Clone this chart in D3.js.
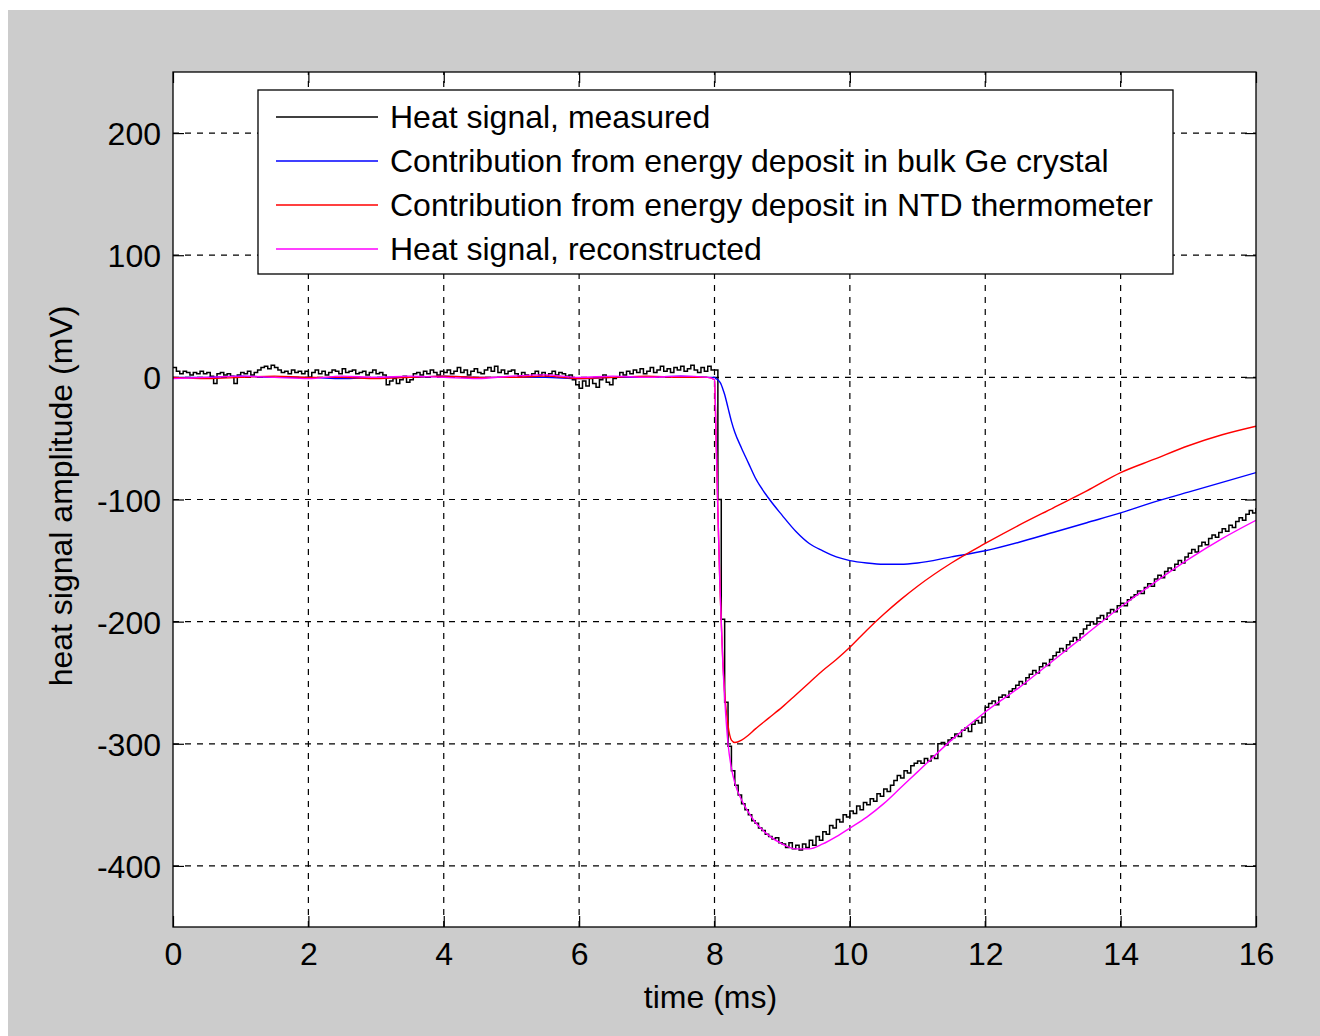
<html>
<head>
<meta charset="utf-8">
<title>heat signal</title>
<style>
body { margin: 0; padding: 0; background: #ffffff; }
svg { display: block; }
text { font-family: "Liberation Sans", Arial, sans-serif; font-size: 32px; fill: #000; }
.grid line { stroke: #000; stroke-width: 1.2; stroke-dasharray: 6,6; }
.axis line { stroke: #000; stroke-width: 1.2; }
</style>
</head>
<body>
<svg id="chart" width="1320" height="1036"></svg>
<script src="https://cdnjs.cloudflare.com/ajax/libs/d3/7.8.5/d3.min.js"></script>
<script>
// tick values
var xTicks = [0, 2, 4, 6, 8, 10, 12, 14, 16];
var yTicks = [-400, -300, -200, -100, 0, 100, 200];

// measured heat signal, one sample every 0.05 ms from 0 to 16 ms (mV)
var measuredStep = 0.05;
var measured = [
  8, 5, 3, 5, 4, 2, 4, 3, 5, 3, 4, 1, -5, 3, 4, 2, 3, 1, -5, 2,
  4, 3, 5, 2, 4, 6, 8, 9, 7, 10, 8, 6, 4, 5, 3, 6, 4, 5, 3, 5,
  0, 4, 6, 3, 5, 2, 4, 6, 5, 3, 7, 4, 5, 6, 3, 4, 5, 2, 4, 6,
  3, 4, 2, -6, -3, -1, -5, -2, 1, -4, -2, 3, 4, 2, 5, 3, 6, 4, 2, 5,
  4, 6, 3, 5, 8, 4, 6, 2, 5, 7, 4, 3, 6, 8, 5, 9, 4, 6, 3, 5,
  6, 3, 1, 4, 2, 0, 3, 5, 2, 4, 1, 3, 5, 2, 4, 3, 1, 2, -2, -6,
  -9, -3, -7, -1, -5, -8, -2, 2, -4, -6, -1, 0, 4, 2, 5, 3, 6, 4, 7, 3,
  5, 8, 4, 6, 9, 5, 7, 4, 8, 6, 9, 5, 7, 10, 6, 4, 8, 5, 9, 6,
  6, -100, -198, -266, -302, -322, -334, -342, -349, -354, -358, -363, -365, -369, -371, -374, -376, -378, -377, -381,
  -382, -385, -381, -386, -383, -387, -382, -385, -379, -383, -376, -379, -372, -374, -367, -369, -362, -364, -358, -360,
  -355, -357, -351, -354, -348, -350, -345, -347, -341, -343, -337, -339, -334, -330, -326, -328, -322, -324, -318, -316,
  -314, -316, -312, -314, -310, -312, -300, -299, -301, -297, -295, -292, -294, -289, -287, -290, -284, -281, -283, -278,
  -270, -267, -265, -268, -262, -260, -262, -257, -255, -252, -249, -251, -246, -243, -240, -242, -237, -234, -236, -231,
  -228, -225, -222, -224, -219, -216, -213, -215, -210, -206, -203, -200, -202, -197, -195, -198, -193, -190, -192, -187,
  -185, -187, -182, -180, -178, -175, -177, -172, -169, -171, -165, -162, -164, -159, -156, -158, -153, -150, -152, -147,
  -144, -141, -143, -138, -135, -137, -132, -129, -131, -127, -124, -126, -121, -123, -118, -115, -117, -112, -109, -111, -107
];

// fitted components (ms, mV)
var fitTime = [0, 0.5, 1, 1.5, 2, 2.5, 3, 3.5, 4, 4.5, 5, 5.5, 6, 6.5, 7, 7.5, 7.9,
  8.0, 8.02, 8.05, 8.08, 8.1, 8.12, 8.15, 8.2, 8.25, 8.3, 8.4, 8.5, 8.6,
  8.8, 9.0, 9.2, 9.4, 9.6, 9.8, 10, 10.25, 10.5, 10.75, 11,
  11.5, 12, 12.5, 13, 13.5, 14, 14.5, 15, 15.5, 16];
var bulkGe = [0, 0, 1, 0, 0, -1, 0, 0, 1, 0, 0, 0, -1, 0, 0, 1, 0,
  0, -1, -2, -4, -6, -9, -14, -25, -36, -45, -58, -70, -82,
  -99, -113, -126, -136, -142, -147, -150, -152, -153, -153, -152,
  -147, -142, -135, -127, -119, -111, -102, -94, -86, -78];
var ntd = [0, -1, 0, 1, 0, 0, -1, 0, 1, 0, 0, 1, -1, 0, 1, 0, 0,
  -2, -40, -110, -170, -200, -228, -258, -285, -297, -299, -297, -293, -288,
  -279, -270, -260, -250, -240, -231, -221, -207, -194, -182, -171,
  -152, -136, -121, -107, -93, -78, -67, -56, -47, -40];
var reconstructed = [-1, 0, 1, 0, -1, 1, 0, 1, 0, -1, 1, 2, 0, 1, 0, 1, 0,
  -2, -40, -110, -170, -200, -230, -262, -300, -320, -332, -346, -356, -364,
  -375, -382, -386, -386, -382, -376, -369, -360, -349, -336, -323,
  -297, -274, -254, -232, -210, -188, -168, -149, -132, -117];

var legendLabels = [
  "Heat signal, measured",
  "Contribution from energy deposit in bulk Ge crystal",
  "Contribution from energy deposit in NTD thermometer",
  "Heat signal, reconstructed"
];
var legendColours = ["#000000", "#0000ff", "#ff0000", "#ff00ff"];

var svg = d3.select("#chart");

var plotLeft = 173, plotRight = 1256, plotTop = 72, plotBottom = 927;

var x = d3.scaleLinear().domain([0, 16]).range([plotLeft, plotRight]);
var y = d3.scaleLinear().domain([-450, 250]).range([plotBottom, plotTop]);

// plain hyphen for negative numbers, like the original figure
var plainNumber = function(d) { return String(d); };

// figure background
svg.append("rect")
  .attr("x", 8).attr("y", 10)
  .attr("width", 1312).attr("height", 1026)
  .attr("fill", "#cccccc");

svg.append("rect")
  .attr("x", plotLeft).attr("y", plotTop)
  .attr("width", plotRight - plotLeft).attr("height", plotBottom - plotTop)
  .attr("fill", "#ffffff");

// grid
var grid = svg.append("g").attr("class", "grid");
grid.selectAll(".vgrid")
  .data(xTicks.slice(1, -1))
  .enter().append("line")
  .attr("x1", function(d) { return x(d); })
  .attr("x2", function(d) { return x(d); })
  .attr("y1", plotBottom).attr("y2", plotTop);
grid.selectAll(".hgrid")
  .data(yTicks)
  .enter().append("line")
  .attr("x1", plotLeft).attr("x2", plotRight)
  .attr("y1", function(d) { return y(d); })
  .attr("y2", function(d) { return y(d); });

// axes (ticks inside, on all four sides)
function styleAxis(g) {
  g.select(".domain").remove();
  g.attr("font-size", null).attr("font-family", null);
  g.selectAll("text").attr("fill", "#000");
}

var xAxisG = svg.append("g").attr("class", "axis")
  .attr("transform", "translate(0," + plotBottom + ")")
  .call(d3.axisBottom(x).tickValues(xTicks).tickFormat(plainNumber).tickSizeInner(-11).tickSizeOuter(0))
  .call(styleAxis);
xAxisG.selectAll("text").attr("y", 38).attr("dy", null);

svg.append("g").attr("class", "axis")
  .attr("transform", "translate(0," + plotTop + ")")
  .call(d3.axisTop(x).tickValues(xTicks).tickSizeInner(-11).tickSizeOuter(0).tickFormat(""))
  .call(styleAxis);

var yAxisG = svg.append("g").attr("class", "axis")
  .attr("transform", "translate(" + plotLeft + ",0)")
  .call(d3.axisLeft(y).tickValues(yTicks).tickFormat(plainNumber).tickSizeInner(-11).tickSizeOuter(0).tickPadding(12))
  .call(styleAxis);
yAxisG.selectAll("text").attr("dy", "0.36em");

svg.append("g").attr("class", "axis")
  .attr("transform", "translate(" + plotRight + ",0)")
  .call(d3.axisRight(y).tickValues(yTicks).tickSizeInner(-11).tickSizeOuter(0).tickFormat(""))
  .call(styleAxis);

// data lines
svg.append("clipPath").attr("id", "plotclip")
  .append("rect")
  .attr("x", plotLeft).attr("y", plotTop)
  .attr("width", plotRight - plotLeft).attr("height", plotBottom - plotTop);

var lines = svg.append("g").attr("clip-path", "url(#plotclip)");

var measuredLine = d3.line()
  .x(function(d, i) { return x(i * measuredStep); })
  .y(function(d) { return y(d); })
  .curve(d3.curveStepAfter);

var fitLine = d3.line()
  .x(function(d, i) { return x(fitTime[i]); })
  .y(function(d) { return y(d); })
  .curve(d3.curveMonotoneX);

lines.append("path").attr("d", measuredLine(measured))
  .attr("fill", "none").attr("stroke", legendColours[0]).attr("stroke-width", 1.5);
lines.append("path").attr("d", fitLine(bulkGe))
  .attr("fill", "none").attr("stroke", legendColours[1]).attr("stroke-width", 1.4);
lines.append("path").attr("d", fitLine(ntd))
  .attr("fill", "none").attr("stroke", legendColours[2]).attr("stroke-width", 1.4);
lines.append("path").attr("d", fitLine(reconstructed))
  .attr("fill", "none").attr("stroke", legendColours[3]).attr("stroke-width", 1.4);

// frame
svg.append("rect")
  .attr("x", plotLeft).attr("y", plotTop)
  .attr("width", plotRight - plotLeft).attr("height", plotBottom - plotTop)
  .attr("fill", "none").attr("stroke", "#000").attr("stroke-width", 1.3);

// axis titles
svg.append("text")
  .attr("x", (plotLeft + plotRight) / 2 - 4).attr("y", 1008)
  .attr("text-anchor", "middle")
  .text("time (ms)");
svg.append("text")
  .attr("transform", "translate(72,496) rotate(-90)")
  .attr("text-anchor", "middle")
  .text("heat signal amplitude (mV)");

// legend
var legend = svg.append("g");
legend.append("rect")
  .attr("x", 258).attr("y", 90)
  .attr("width", 915).attr("height", 184)
  .attr("fill", "#ffffff").attr("stroke", "#000").attr("stroke-width", 1.3);

var rows = legend.selectAll(".row")
  .data(legendLabels)
  .enter().append("g")
  .attr("transform", function(d, i) { return "translate(0," + (117 + i * 44) + ")"; });
rows.append("line")
  .attr("x1", 276).attr("x2", 378)
  .attr("stroke", function(d, i) { return legendColours[i]; })
  .attr("stroke-width", 1.4);
rows.append("text")
  .attr("x", 390).attr("y", 11)
  .text(function(d) { return d; });
</script>
</body>
</html>
